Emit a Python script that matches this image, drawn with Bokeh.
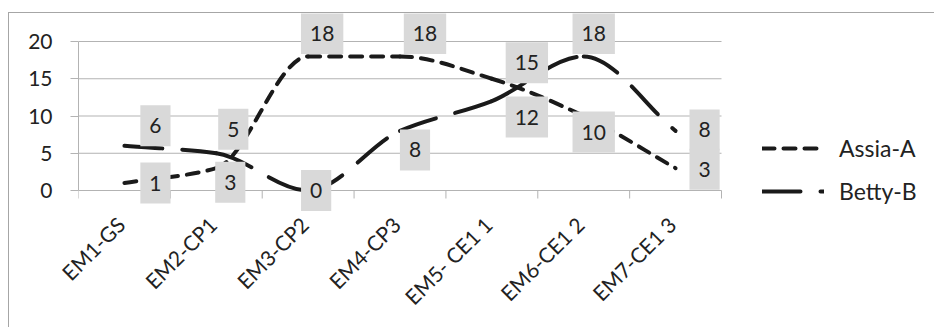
import math
from bokeh.plotting import figure
from bokeh.layouts import column, row
from bokeh.models import Range1d, FixedTicker, Label, Legend, LegendItem, ColumnDataSource, Spacer
from bokeh.embed import file_html
from bokeh.resources import INLINE

# ---- data ----
categories = ["EM1-GS", "EM2-CP1", "EM3-CP2", "EM4-CP3", "EM5- CE1 1", "EM6-CE1 2", "EM7-CE1 3"]
assia = [1, 3, 18, 18, 15, 10, 3]
betty = [6, 5, 0, 8, 12, 18, 8]
y_ticks = [0, 5, 10, 15, 20]

# ---- label placement (pixel offsets from each point, style only) ----
assia_label_dx = [31, 14, 14, 25, 35, 10, 29]
assia_label_dy = [0, -14, 23, 23, 16, -16, -1]
betty_label_dx = [31, 17, 8, 15, 35, 10, 29]
betty_label_dy = [20, 24, 0, -19, -16, 23, 1]

FONT = "Lato"
TEXT = "#222222"
GRID = "#b3b3b3"
LINE = "#1a1a1a"

# ---- layout (pixels) ----
FIG_W, FIG_H = 926, 315
BORDER_L = 69
FRAME_H = 201
PAD_TOP_PX = 28        # frame top -> value 20
PAD_BOTTOM_PX = 24     # value 0 -> frame bottom
PLOT_W_PX = 643        # width of the category area
TICK_PX = 8
LABEL_SHIFT = -0.04    # x tick-label anchor shift (category units)

n_cat = len(categories)
Y_MAX = y_ticks[-1]
px_per_unit = (FRAME_H - PAD_TOP_PX - PAD_BOTTOM_PX) / Y_MAX
cat_px = PLOT_W_PX / n_cat
frame_w = FIG_W - BORDER_L
x_lo, x_hi = 0.5, n_cat + 0.5

xs = list(range(1, n_cat + 1))
bounds = [v - 0.5 for v in xs] + [xs[-1] + 0.5]


def smooth_source(x, y):
    n = len(x)
    d = [(y[i + 1] - y[i]) / (x[i + 1] - x[i]) for i in range(n - 1)]
    m = [0.0] * n
    m[0] = d[0]
    m[-1] = d[-1]
    for i in range(1, n - 1):
        if d[i - 1] * d[i] <= 0:
            m[i] = 0.0
        else:
            m[i] = 2.0 / (1.0 / d[i - 1] + 1.0 / d[i])
    src = dict(x0=[], y0=[], x1=[], y1=[], cx0=[], cy0=[], cx1=[], cy1=[])
    for i in range(n - 1):
        h = x[i + 1] - x[i]
        src["x0"].append(x[i]); src["y0"].append(y[i])
        src["x1"].append(x[i + 1]); src["y1"].append(y[i + 1])
        src["cx0"].append(x[i] + h / 3); src["cy0"].append(y[i] + m[i] * h / 3)
        src["cx1"].append(x[i + 1] - h / 3); src["cy1"].append(y[i + 1] - m[i + 1] * h / 3)
    return ColumnDataSource(src)


p = figure(width=FIG_W, height=FIG_H, output_backend="svg", toolbar_location=None,
           x_range=Range1d(x_lo, x_lo + frame_w / cat_px),
           y_range=Range1d(-PAD_BOTTOM_PX / px_per_unit, Y_MAX + PAD_TOP_PX / px_per_unit),
           min_border_left=BORDER_L, min_border_right=0, min_border_top=0,
           min_border_bottom=FIG_H - FRAME_H)
p.styles = {"border-top": "1px solid #a6a6a6", "border-left": "1px solid #a6a6a6"}
p.outline_line_color = None
p.background_fill_color = "white"
p.xgrid.grid_line_color = None
p.ygrid.grid_line_color = None

# horizontal gridlines over the category area (0 line doubles as the x axis line)
p.segment(x0=[x_lo] * len(y_ticks), y0=y_ticks, x1=[x_hi] * len(y_ticks), y1=y_ticks,
          line_color=GRID, line_width=1)
# category boundary tick marks below the 0 line
p.segment(x0=bounds, y0=[0] * len(bounds), x1=bounds, y1=[-TICK_PX / px_per_unit] * len(bounds),
          line_color=GRID, line_width=1)

# x axis: labels only
label_ticks = [x + LABEL_SHIFT for x in xs]
p.xaxis.ticker = FixedTicker(ticks=label_ticks)
p.xaxis.major_label_overrides = {t: c for t, c in zip(label_ticks, categories)}
p.xaxis.major_label_orientation = math.pi / 4
p.xaxis.major_tick_line_color = None
p.xaxis.minor_tick_line_color = None
p.xaxis.axis_line_color = None
p.xaxis.major_tick_out = 0
p.xaxis.major_tick_in = 0
p.xaxis.major_label_standoff = 6

p.yaxis.ticker = FixedTicker(ticks=y_ticks)
p.yaxis.bounds = (0, Y_MAX)
p.yaxis.major_tick_out = TICK_PX
p.yaxis.major_tick_in = 0
p.yaxis.minor_tick_line_color = None
p.yaxis.major_label_standoff = 18
p.yaxis.axis_line_color = GRID
p.yaxis.major_tick_line_color = GRID

for ax in (p.xaxis[0], p.yaxis[0]):
    ax.major_label_text_font = FONT
    ax.major_label_text_font_size = "21px"
    ax.major_label_text_color = TEXT

ra = p.bezier(x0="x0", y0="y0", x1="x1", y1="y1", cx0="cx0", cy0="cy0", cx1="cx1", cy1="cy1",
              source=smooth_source(xs, assia), line_color=LINE, line_width=4,
              line_dash="12 9", line_cap="round")
rb = p.bezier(x0="x0", y0="y0", x1="x1", y1="y1", cx0="cx0", cy0="cy0", cx1="cx1", cy1="cy1",
              source=smooth_source(xs, betty), line_color=LINE, line_width=4,
              line_dash="38 20", line_cap="round")

for vals, dxs, dys in ((assia, assia_label_dx, assia_label_dy), (betty, betty_label_dx, betty_label_dy)):
    for x, v, dx, dy in zip(xs, vals, dxs, dys):
        p.add_layout(Label(x=x, y=v, x_offset=dx, y_offset=dy, text=str(v),
                           text_align="center", text_baseline="middle",
                           text_font=FONT, text_font_size="21px", text_color=TEXT,
                           background_fill_color="#d9d9d9",
                           padding=dict(left=9, right=9, top=13, bottom=13)))

legend = Legend(items=[LegendItem(label="Assia-A", renderers=[ra]),
                       LegendItem(label="Betty-B", renderers=[rb])],
                location=(684, 9), glyph_width=62, glyph_height=26, label_height=26,
                label_standoff=15, spacing=15, padding=0, margin=0,
                border_line_color=None, background_fill_alpha=0,
                label_text_font=FONT, label_text_font_size="23px", label_text_color=TEXT)
p.add_layout(legend)

layout = column(Spacer(height=12), row(Spacer(width=8), p))
open("out.html", "w").write(file_html(layout, INLINE))
